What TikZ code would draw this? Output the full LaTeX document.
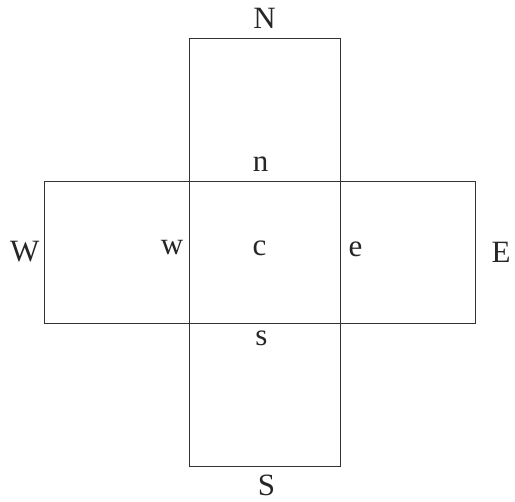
\documentclass[tikz,border=0pt]{standalone}
\usepackage{fontspec}
\setmainfont{Liberation Serif}
\usetikzlibrary{positioning}
\begin{document}
\begin{tikzpicture}[
    x=1pt, y=-1pt,
    cell/.style={rectangle, draw=black!80, line width=0.9pt, minimum height=142pt, inner sep=0pt},
    lbl/.style={font=\fontsize{31}{34}\selectfont, text=black!85, inner sep=0pt}
]
\useasboundingbox (0,0) rectangle (515,502);
% the five cells
\node[cell, minimum width=151pt] (C) at (264.5,252) {};
\node[cell, minimum width=151pt, minimum height=143pt] (N) at (264.5,109.5) {};
\node[cell, minimum width=151pt, minimum height=143pt] (S) at (264.5,394.5) {};
\node[cell, minimum width=145pt] (W) at (116.5,252) {};
\node[cell, minimum width=135pt] (E) at (407.5,252) {};
% neighbour labels
\node[lbl, above=9pt of N.north] (labN) {N};
\node[lbl, below=8pt of S.south, xshift=2pt] (labS) {S};
\node[lbl, left=4pt of W.west] (labW) {W};
\node[lbl, right=16pt of E.east] (labE) {E};
% face labels
\node[lbl, xshift=-5pt, yshift=4pt] (labc) at (C.center) {c};
\node[lbl, above=9pt of C.north, xshift=-4pt] (labn) {n};
\node[lbl, below=7pt of C.south, xshift=-3pt] (labs) {s};
\node[lbl, left=5pt of C.west, yshift=4pt] (labw) {w};
\node[lbl, right=8pt of C.east, yshift=3pt] (labe) {e};
\end{tikzpicture}
\end{document}
